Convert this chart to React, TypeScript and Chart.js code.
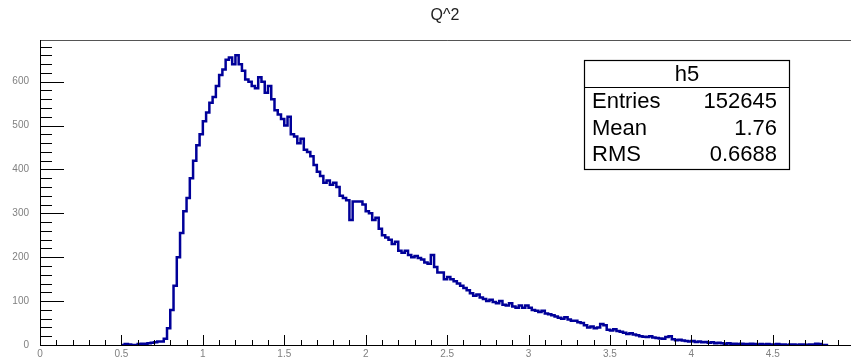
import React, { useEffect, useRef } from "react";
import { Chart, registerables } from "chart.js";

Chart.register(...registerables);

const chartTitle = "Q^2";
const statsTitle = "h5";
const statsNames = ["Entries", "Mean", "RMS"];
const statsValues = ["152645", "1.76", "0.6688"];

const xMin = 0;
const xMax = 5;
const yMax = 695;
const xMajorTicks = [0, 0.5, 1, 1.5, 2, 2.5, 3, 3.5, 4, 4.5, 5];
const yMajorTicks = [0, 100, 200, 300, 400, 500, 600];

// histogram: left edge of first bin, bin width, and counts
const binStart = 0.5;
const binWidth = 0.02;
const counts = [
  0, 0, 2, 1, 0, 0, 2, 3, 3, 4,
  5, 6, 8, 8, 14, 38, 80, 135, 200, 255,
  305, 335, 380, 420, 455, 480, 510, 530, 552, 565,
  590, 615, 628, 650, 655, 640, 660, 640, 625, 605,
  600, 590, 585, 610, 600, 575, 590, 560, 535, 525,
  515, 500, 520, 480, 475, 460, 470, 445, 440, 430,
  410, 395, 385, 370, 375, 365, 370, 360, 340, 335,
  330, 285, 327, 327, 327, 320, 305, 300, 285, 290,
  265, 250, 245, 240, 230, 235, 215, 210, 215, 205,
  200, 203, 198, 195, 188, 185, 205, 178, 165, 165,
  150, 155, 150, 145, 140, 135, 130, 125, 118, 112,
  115, 108, 105, 100, 103, 98, 95, 100, 92, 90,
  95, 88, 85, 90, 85, 90, 85, 80, 78, 75,
  78, 72, 70, 68, 65, 62, 60, 63, 58, 55,
  55, 52, 50, 45, 40, 42, 38, 40, 48, 45,
  35, 33, 36, 32, 30, 28, 25, 27, 24, 22,
  20, 19, 18, 20, 17, 16, 15, 14, 18, 20,
  13, 11, 12, 10, 9, 8, 9, 7, 8, 6,
  7, 5, 6, 4, 5, 4, 3, 4, 3, 3,
  2, 3, 2, 2, 3, 2, 1, 2, 1, 2,
  1, 1, 2, 1, 1, 0, 1, 1, 0, 1,
  1, 0, 1, 1, 3, 2, 0,
];

const LINE_COLOR = "rgb(0,0,153)";
const FONT = '"Liberation Sans", Arial, Helvetica, sans-serif';

const rootPlugin = {
  id: "rootDecor",
  afterDraw(chart: any) {
    const ctx = chart.ctx as CanvasRenderingContext2D;
    const { left, right, top, bottom } = chart.chartArea;
    const xs = chart.scales.x;
    const ys = chart.scales.y;
    ctx.save();
    // frame
    ctx.lineWidth = 1;
    ctx.strokeStyle = "#555";
    ctx.beginPath();
    ctx.moveTo(left, top + 0.5);
    ctx.lineTo(right, top + 0.5);
    ctx.moveTo(right - 0.5, top);
    ctx.lineTo(right - 0.5, bottom);
    ctx.stroke();
    // axes
    ctx.strokeStyle = "#000";
    ctx.beginPath();
    ctx.moveTo(left + 0.5, top);
    ctx.lineTo(left + 0.5, bottom + 0.5);
    ctx.lineTo(right, bottom + 0.5);
    ctx.stroke();
    // y ticks
    ctx.beginPath();
    for (let v = 0; v <= yMax; v += 20) {
      const py = Math.round(ys.getPixelForValue(v)) + 0.5;
      const len = v % 100 === 0 ? 24 : 12;
      ctx.moveTo(left, py);
      ctx.lineTo(left + len, py);
    }
    // x ticks
    for (let i = 0; i <= 50; i++) {
      const px = Math.round(xs.getPixelForValue(i * 0.1)) + 0.5;
      const len = i % 5 === 0 ? 10 : 5;
      ctx.moveTo(px, bottom);
      ctx.lineTo(px, bottom - len);
    }
    ctx.stroke();

    // title
    ctx.fillStyle = "#222";
    ctx.font = `16px ${FONT}`;
    ctx.textAlign = "center";
    ctx.textBaseline = "middle";
    ctx.fillText(chartTitle, 445, 15.5);

    // stats box
    const bx = 584.5, by = 60.5, bw = 205, bh = 109;
    ctx.fillStyle = "#fff";
    ctx.fillRect(bx, by, bw, bh);
    ctx.strokeStyle = "#000";
    ctx.lineWidth = 1.2;
    ctx.strokeRect(bx, by, bw, bh);
    ctx.beginPath();
    ctx.moveTo(bx, 87.5);
    ctx.lineTo(bx + bw, 87.5);
    ctx.stroke();
    ctx.fillStyle = "#000";
    ctx.font = `22px ${FONT}`;
    ctx.textAlign = "center";
    ctx.fillText(statsTitle, bx + bw / 2, 74.5);
    const rowY = [101.5, 128.5, 155];
    statsNames.forEach((n, i) => {
      ctx.textAlign = "left";
      ctx.fillText(n, 592, rowY[i]);
      ctx.textAlign = "right";
      ctx.fillText(statsValues[i], 777, rowY[i]);
    });
    ctx.restore();
  },
};

export default function App() {
  const ref = useRef<HTMLCanvasElement | null>(null);
  useEffect(() => {
    if (!ref.current) return;
    const pts = counts.map((c, i) => ({ x: binStart + i * binWidth, y: c }));
    pts.push({ x: binStart + counts.length * binWidth, y: counts[counts.length - 1] });
    const chart = new Chart(ref.current, {
      type: "line",
      data: {
        datasets: [
          {
            data: pts,
            borderColor: LINE_COLOR,
            borderWidth: 2.5,
            pointRadius: 0,
            stepped: "after",
            fill: false,
            tension: 0,
          },
        ],
      },
      options: {
        responsive: false,
        animation: false,
        devicePixelRatio: 1,
        layout: { padding: { left: 0, right: 4, top: 40, bottom: 0 } },
        plugins: {
          legend: { display: false },
          title: { display: false },
          tooltip: { enabled: false },
        },
        scales: {
          x: {
            type: "linear",
            min: xMin,
            max: xMax,
            grid: { display: false, drawTicks: false },
            border: { display: false },
            afterFit: (s: any) => { s.height = 16; },
            afterBuildTicks: (s: any) => { s.ticks = xMajorTicks.map((v) => ({ value: v })); },
            ticks: {
              autoSkip: false,
              maxRotation: 0,
              padding: 3,
              color: "#808080",
              font: { size: 10, family: FONT },
              callback: (v: any) => String(Math.round(Number(v) * 10) / 10),
            },
          },
          y: {
            type: "linear",
            min: 0,
            max: yMax,
            grid: { display: false, drawTicks: false },
            border: { display: false },
            afterFit: (s: any) => { s.width = 40; },
            afterBuildTicks: (s: any) => { s.ticks = yMajorTicks.map((v) => ({ value: v })); },
            ticks: {
              padding: 11,
              color: "#808080",
              font: { size: 10, family: FONT },
              callback: (v: any) => String(v),
            },
          },
        },
      },
      plugins: [rootPlugin],
    });
    return () => chart.destroy();
  }, []);
  return (
    <div style={{ position: "absolute", left: 0, top: 0, width: 851, height: 362, overflow: "hidden", background: "#fff" }}>
      <canvas ref={ref} width={860} height={362} style={{ display: "block" }} />
    </div>
  );
}
